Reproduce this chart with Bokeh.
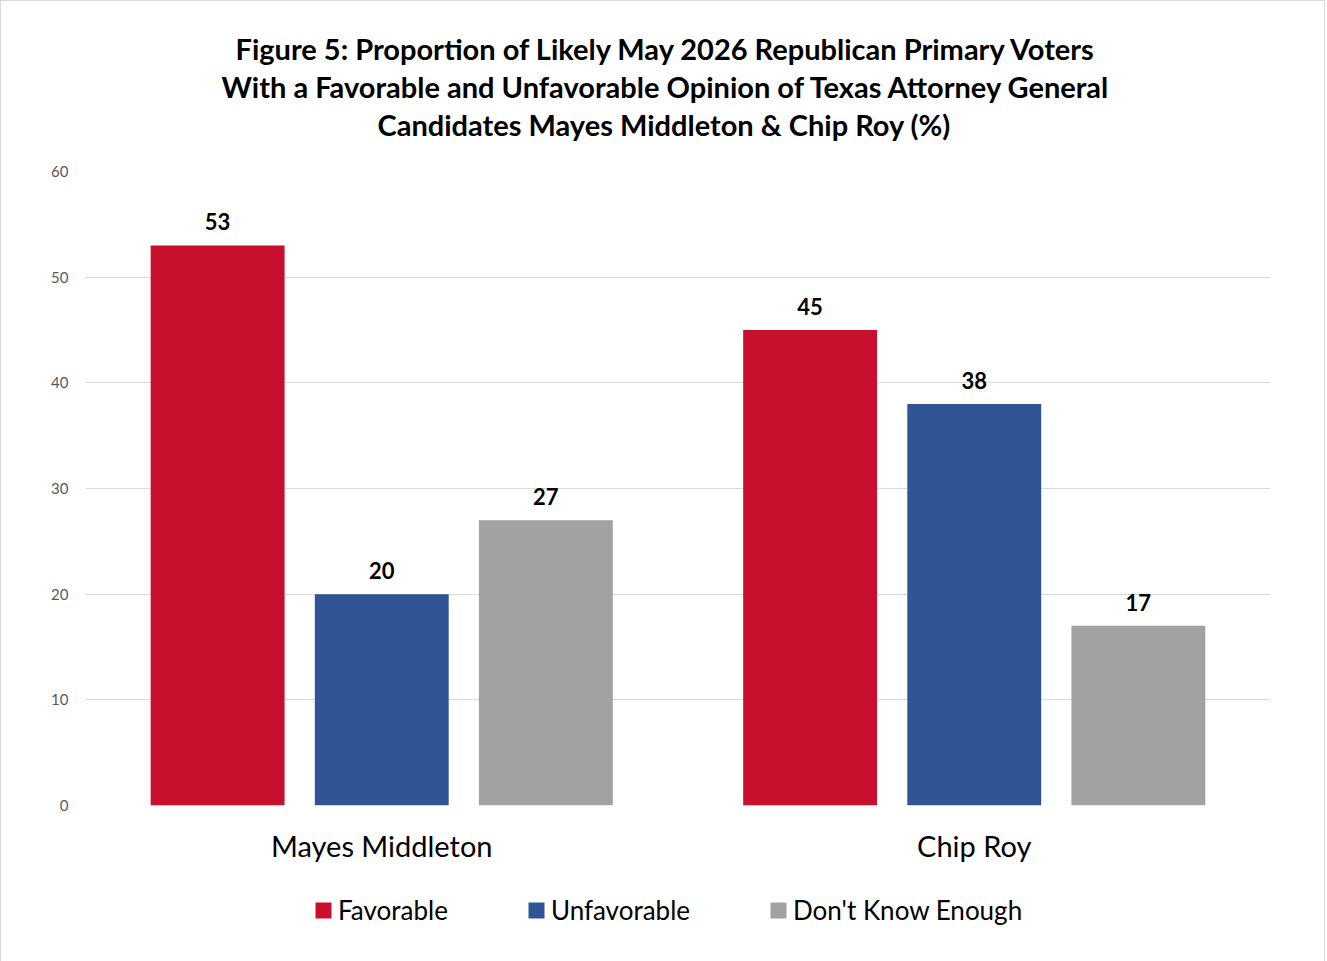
from bokeh.plotting import figure
from bokeh.layouts import column
from bokeh.models import (FactorRange, ColumnDataSource, LabelSet, Legend, LegendItem,
                          Title, Range1d, FixedTicker)
from bokeh.core.properties import value
from bokeh.transform import dodge
from bokeh.embed import file_html
from bokeh.resources import INLINE

# ---- data ----
candidates = ["Mayes Middleton", "Chip Roy"]
series = ["Favorable", "Unfavorable", "Don't Know Enough"]
favorable = [53, 45]
unfavorable = [20, 38]
dont_know = [27, 17]
y_ticks = [0, 10, 20, 30, 40, 50, 60]
title_lines = [
    "Figure 5: Proportion of Likely May 2026 Republican Primary Voters",
    "With a Favorable and Unfavorable Opinion of Texas Attorney General",
    "Candidates Mayes Middleton & Chip Roy (%)",
]

# ---- style ----
colors = ["#C8102E", "#2F5597", "#A2A2A2"]
offsets = [-0.277, 0.0, 0.277]
bar_w = 0.226
FONT = "Lato"

src = ColumnDataSource(dict(cand=candidates, fav=favorable, unf=unfavorable, dk=dont_know,
                            fav_t=[str(v) for v in favorable],
                            unf_t=[str(v) for v in unfavorable],
                            dk_t=[str(v) for v in dont_know]))

p = figure(x_range=FactorRange(*candidates, range_padding=0), y_range=Range1d(0, 60),
           frame_width=1185, frame_height=634, output_backend="svg", toolbar_location=None,
           min_border_left=84, min_border_right=54, min_border_top=170, min_border_bottom=72)
p.outline_line_color = None

cols = ["fav", "unf", "dk"]
for col, off, c in zip(cols, offsets, colors):
    p.vbar(x=dodge("cand", off, range=p.x_range), top=col, width=bar_w, source=src,
           fill_color=c, line_color=None)
    lab = LabelSet(x=dodge("cand", off, range=p.x_range), y=col, text=col + "_t", source=src,
                   text_align="center", text_baseline="alphabetic", y_offset=15,
                   text_font=value(FONT), text_font_style="bold", text_font_size="22px",
                   text_color="black")
    p.add_layout(lab)

# axes
p.yaxis.ticker = FixedTicker(ticks=y_ticks)
p.yaxis.axis_line_color = None
p.yaxis.major_tick_line_color = None
p.yaxis.major_tick_out = 0
p.yaxis.minor_tick_line_color = None
p.yaxis.major_label_text_color = "#595959"
p.yaxis.major_label_text_font = FONT
p.yaxis.major_label_text_font_size = "15px"
p.yaxis.major_label_standoff = 17

p.xaxis.axis_line_color = None
p.xaxis.major_tick_line_color = None
p.xaxis.major_tick_out = 0
p.xaxis.major_label_text_color = "#000000"
p.xaxis.major_label_text_font = FONT
p.xaxis.major_label_text_font_size = "29px"
p.xaxis.major_label_standoff = 22

p.xgrid.grid_line_color = None
p.ygrid.grid_line_color = "#d9d9d9"
p.ygrid.grid_line_width = 1

# titles (p.title is outermost; later-added titles sit further from the frame)
def style_title(t, off):
    t.align = "left"
    t.offset = off
    t.text_font = FONT
    t.text_font_size = "29px"
    t.text_font_style = "bold"
    t.text_color = "#000000"
    t.standoff = 1

p.title.text = title_lines[0]
style_title(p.title, 150)
spacer = Title(text=" ", text_font_size="24px", standoff=0)
p.add_layout(spacer, "above")
t3 = Title(text=title_lines[2]); style_title(t3, 292)
p.add_layout(t3, "above")
t2 = Title(text=title_lines[1]); style_title(t2, 136)
p.add_layout(t2, "above")

# ---- legend strip: same series drawn out of view, only their legend swatches show ----
lg = figure(width=1323, height=85, output_backend="svg", toolbar_location=None,
            x_range=p.x_range, y_range=Range1d(1000, 1001),
            min_border=0, outline_line_color=None)
lg.axis.visible = False
lg.grid.visible = False
lg_renderers = [lg.vbar(x=dodge("cand", off, range=lg.x_range), top=col, width=bar_w,
                        source=src, fill_color=c, line_color=None)
                for col, off, c in zip(cols, offsets, colors)]
legend = Legend(items=[LegendItem(label=s, renderers=[r]) for s, r in zip(series, lg_renderers)],
                orientation="horizontal", location=(228, 36),
                label_text_font=FONT, label_text_font_size="26px", label_text_color="#000000",
                glyph_width=20, glyph_height=20, spacing=78, label_standoff=5,
                border_line_color=None, background_fill_alpha=0, padding=0, margin=0)
lg.add_layout(legend, "center")

layout = column(p, lg, spacing=0)
layout.styles = {"border": "1px solid #d9d9d9"}

open("out.html", "w").write(file_html(layout, INLINE))
